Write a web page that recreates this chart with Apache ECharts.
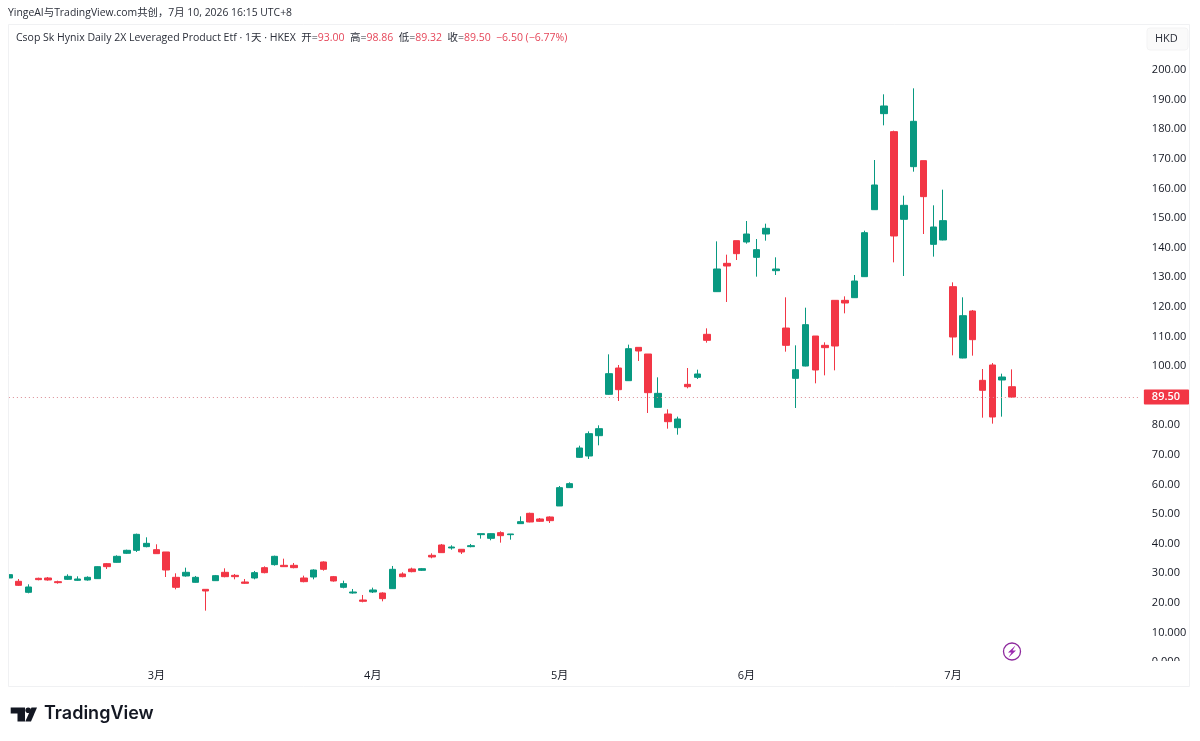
<!DOCTYPE html>
<html>
<head>
<meta charset="utf-8">
<style>html,body{margin:0;padding:0;background:#fff}#chart{width:1200px;height:741px}</style>
<script src="https://cdn.jsdelivr.net/npm/echarts@6/dist/echarts.min.js"></script>
</head>
<body>
<div id="chart"></div>
<script>
// Daily sessions, Feb to Jul 2026
const tradingDays = [
  '02-04','02-05','02-06','02-09','02-10','02-11','02-12','02-13','02-16','02-20','02-23','02-24','02-25','02-26','02-27',
  '03-02','03-03','03-04','03-05','03-06','03-09','03-10','03-11','03-12','03-13','03-16','03-17','03-18','03-19','03-20','03-23','03-24','03-25','03-26','03-27','03-30','03-31',
  '04-01','04-02','04-08','04-09','04-10','04-13','04-14','04-15','04-16','04-17','04-20','04-21','04-22','04-23','04-24','04-27','04-28','04-29','04-30',
  '05-04','05-05','05-06','05-07','05-08','05-11','05-12','05-13','05-14','05-15','05-18','05-19','05-20','05-21','05-22','05-26','05-27','05-28','05-29',
  '06-01','06-02','06-03','06-04','06-05','06-08','06-09','06-10','06-11','06-12','06-15','06-16','06-17','06-18','06-22','06-23','06-24','06-25','06-26','06-29','06-30',
  '07-02','07-03','07-06','07-07','07-08','07-09','07-10'
];
const opens = [
  28.38,27.26,23.54,28.27,28.38,27.14,27.93,27.59,27.71,28.16,33.22,33.67,36.72,37.73,38.97,37.95,37.17,28.61,29.06,26.92,
  24.55,27.48,30.30,29.28,27.03,28.38,31.87,32.89,32.66,32.66,28.38,28.72,33.79,28.83,25.23,23.31,20.95,23.65,23.31,24.78,
  29.73,31.42,30.97,36.04,39.53,38.52,38.07,38.97,43.02,41.78,43.70,43.02,46.74,50.23,48.32,48.99,52.71,58.90,69.14,69.59,
  76.46,90.43,99.32,95.04,106.30,104.05,86.03,83.78,79.16,93.80,96.17,110.70,125.11,134.68,142.34,141.89,136.71,144.59,132.20,112.83,
  95.83,99.99,110.13,106.98,122.18,122.18,123.08,130.18,152.81,185.25,179.17,149.55,167.34,169.37,141.10,142.57,126.80,102.70,118.58,95.16,
  100.34,95.27,93.00
];
const closes = [
  29.51,25.90,25.34,27.82,27.71,26.80,28.94,28.04,28.61,32.21,32.21,35.70,37.73,43.13,40.09,36.60,31.08,25.23,30.30,28.61,
  23.99,29.17,28.83,28.83,26.58,30.18,30.18,35.70,32.21,31.87,27.14,31.08,31.31,27.37,26.47,23.65,20.50,24.33,21.40,31.31,
  28.83,30.52,31.53,35.48,36.94,38.85,37.17,39.30,43.36,43.36,42.68,43.25,47.41,47.30,47.53,47.75,58.90,60.25,72.30,77.14,
  78.83,97.41,92.00,105.85,105.07,90.99,90.76,81.19,82.09,93.00,97.30,108.67,132.77,133.78,137.95,144.59,139.30,146.51,132.77,106.98,
  98.76,113.96,98.65,106.19,106.75,121.28,128.71,145.04,161.15,187.84,143.92,154.28,182.66,157.21,146.96,149.10,109.79,117.00,108.89,91.78,
  82.77,96.28,89.50
];
const lows = [
  28.16,25.68,23.20,27.59,27.48,26.47,27.71,27.37,27.48,28.04,31.42,33.56,36.49,37.17,38.74,36.49,28.72,24.55,28.83,26.80,
  17.35,27.37,28.61,27.93,26.36,27.93,29.96,32.55,32.10,31.65,26.92,27.93,30.86,27.14,24.89,23.09,20.16,23.31,20.50,24.67,
  28.61,30.30,30.75,35.03,36.83,37.95,36.49,38.74,41.67,41.11,40.32,41.33,46.63,47.19,47.30,46.96,52.71,58.78,68.92,68.58,
  73.20,90.31,88.17,94.93,101.69,84.12,85.92,78.83,76.80,92.45,95.61,107.88,125.00,121.62,135.81,141.33,130.18,142.34,130.74,104.84,
  85.81,99.88,94.14,96.84,98.53,117.79,122.97,130.07,152.70,181.30,135.02,130.40,165.65,144.59,136.94,142.45,103.60,102.59,103.49,82.54,
  80.52,82.88,89.32
];
const highs = [
  29.96,28.04,26.24,28.49,28.72,27.48,29.62,28.94,28.94,32.32,33.45,36.04,37.95,43.36,42.12,39.76,37.17,29.96,31.87,29.06,
  24.55,29.40,31.65,29.73,28.04,30.75,32.32,35.93,34.91,33.45,29.17,31.31,34.01,29.06,27.48,24.67,22.64,25.12,23.54,32.44,
  30.30,31.87,31.76,36.71,39.87,39.42,38.18,39.87,43.36,43.47,44.15,43.25,49.21,50.45,48.65,49.21,59.46,60.70,73.08,77.92,
  79.95,103.94,100.34,107.21,106.30,104.05,96.17,85.36,82.88,99.32,98.76,112.72,142.11,137.61,142.34,148.98,142.90,148.08,136.71,123.20,
  106.98,119.70,110.13,107.99,122.18,123.53,130.74,145.72,169.59,191.78,179.50,157.54,193.80,169.37,154.28,159.57,128.26,123.20,118.92,98.98,
  101.00,97.41,98.86
];
const monthTicks = {'03-02':'3月','04-01':'4月','05-04':'5月','06-01':'6月','07-02':'7月'};
const priceLabels = {
  200:'200.00',190:'190.00',180:'180.00',170:'170.00',160:'160.00',150:'150.00',140:'140.00',
  130:'130.00',120:'120.00',110:'110.00',100:'100.00',90:'90.00',80:'80.00',70:'70.00',60:'60.00',
  50:'50.00',40:'40.00',30:'30.00',20:'20.00',10:'10.000',0:'0.000'
};
const emptySessionsAhead = 13;   // blank room right of the last candle
const priceCeiling = 214.86;     // top of the pane in HKD
const lastClose = closes[closes.length - 1];

const UP = '#089981', DOWN = '#F23645', INK = '#131722';
const FONT = '"Open Sans","Noto Sans CJK SC",sans-serif';

const categories = tradingDays.concat(Array.from({length: emptySessionsAhead}, (_, i) => 'f' + i));
const candles = tradingDays.map((_, i) => [opens[i], closes[i], lows[i], highs[i]]);

const chart = echarts.init(document.getElementById('chart'), null, {renderer: 'canvas'});
chart.setOption({
  animation: false,
  backgroundColor: '#ffffff',
  textStyle: {fontFamily: FONT},
  grid: {left: 8.87, top: 26, width: 1131, height: 636},
  xAxis: {
    type: 'category',
    data: categories,
    boundaryGap: false,
    axisLine: {show: false},
    axisTick: {show: false},
    splitLine: {show: false},
    axisLabel: {
      interval: 0, margin: 8, fontSize: 11, color: INK, fontFamily: FONT,
      hideOverlap: false,
      formatter: v => monthTicks[v] || ''
    }
  },
  yAxis: {
    type: 'value',
    position: 'right',
    min: 0,
    max: priceCeiling,
    interval: 10,
    splitLine: {show: false},
    axisLine: {show: false},
    axisTick: {show: false},
    axisLabel: {
      margin: 12, fontSize: 11, color: INK, fontFamily: FONT,
      showMaxLabel: false,
      formatter: v => priceLabels[v] || ''
    }
  },
  series: [{
    type: 'candlestick',
    data: candles,
    clip: true,
    barWidth: 7,
    itemStyle: {color: UP, color0: DOWN, borderColor: UP, borderColor0: DOWN, borderWidth: 1},
    markLine: {
      silent: true,
      symbol: 'none',
      animation: false,
      lineStyle: {color: '#d98a92', type: [1, 3], width: 1},
      label: {
        position: 'end', distance: 4, formatter: lastClose.toFixed(2),
        backgroundColor: DOWN, color: '#fff', fontSize: 11, fontWeight: 600,
        fontFamily: FONT, padding: [2, 9, 2, 8], borderRadius: 1
      },
      data: [{yAxis: lastClose}]
    }
  }],
  graphic: [
    // margin left of the pane hides the part of the first candle before the edge
    {type: 'rect', z: 99, shape: {x: 0, y: 26, width: 8.5, height: 660}, style: {fill: '#fff'}},
    // pane frame
    {type: 'rect', z: 100, shape: {x: 8.5, y: 24.5, width: 1181, height: 662}, style: {fill: 'none', stroke: '#f0f1f3', lineWidth: 1}},
    // cut the lowest price label at the pane bottom
    {type: 'rect', z: 100, shape: {x: 1144, y: 661, width: 45, height: 18}, style: {fill: '#fff'}},
    // header lines
    {type: 'text', z: 100, x: 8, y: 8, style: {
      text: 'YingeAI与TradingView.com共创，7月 10, 2026 16:15 UTC+8',
      fill: '#2a2e39', fontSize: 10.4, fontFamily: FONT}},
    {type: 'text', z: 100, x: 16, y: 33, style: {
      text: '{n|Csop Sk Hynix Daily 2X Leveraged Product Etf · 1天 · HKEX}{n|  开=}{v|93.00}{n|  高=}{v|98.86}{n|  低=}{v|89.32}{n|  收=}{v|89.50}{v|  −6.50 (−6.77%)}',
      fontSize: 10.5, fontFamily: FONT,
      rich: {
        n: {fill: '#2a2e39', fontSize: 10.5, fontFamily: FONT},
        v: {fill: '#e5475a', fontSize: 10.5, fontFamily: FONT}
      }}},
    // currency button
    {type: 'rect', z: 100, shape: {x: 1147, y: 28, width: 41, height: 22, r: 3}, style: {fill: '#fafafa', stroke: '#f3f3f4'}},
    {type: 'text', z: 101, x: 1155, y: 33, style: {text: 'HKD', fill: '#2a2e39', fontSize: 11, fontFamily: FONT}},
    // flash marker
    {type: 'circle', z: 100, shape: {cx: 1012, cy: 651.5, r: 8.5}, style: {fill: '#fff', stroke: '#8e2a9e', lineWidth: 1.3}},
    {type: 'polygon', z: 101, shape: {points: [[1015.5,645.5],[1008,652.5],[1011.5,652.5],[1008.5,657.5],[1016,650.5],[1012.5,650.5]]}, style: {fill: '#9c27b0'}},
    // brand mark
    {type: 'polygon', z: 100, shape: {points: [[10.7,707.5],[25,707.5],[25,721.5],[17.5,721.5],[17.5,713.5],[10.7,713.5]]}, style: {fill: INK}},
    {type: 'circle', z: 100, shape: {cx: 28.2, cy: 710.3, r: 2.8}, style: {fill: INK}},
    {type: 'polygon', z: 100, shape: {points: [[31.5,707.5],[37,707.5],[31,721.5],[25.3,721.5]]}, style: {fill: INK}},
    {type: 'text', z: 100, x: 44, y: 705, style: {text: 'TradingView', fill: INK, fontSize: 18, fontWeight: 600, fontFamily: 'Inter, sans-serif'}}
  ]
});
</script>
</body>
</html>
